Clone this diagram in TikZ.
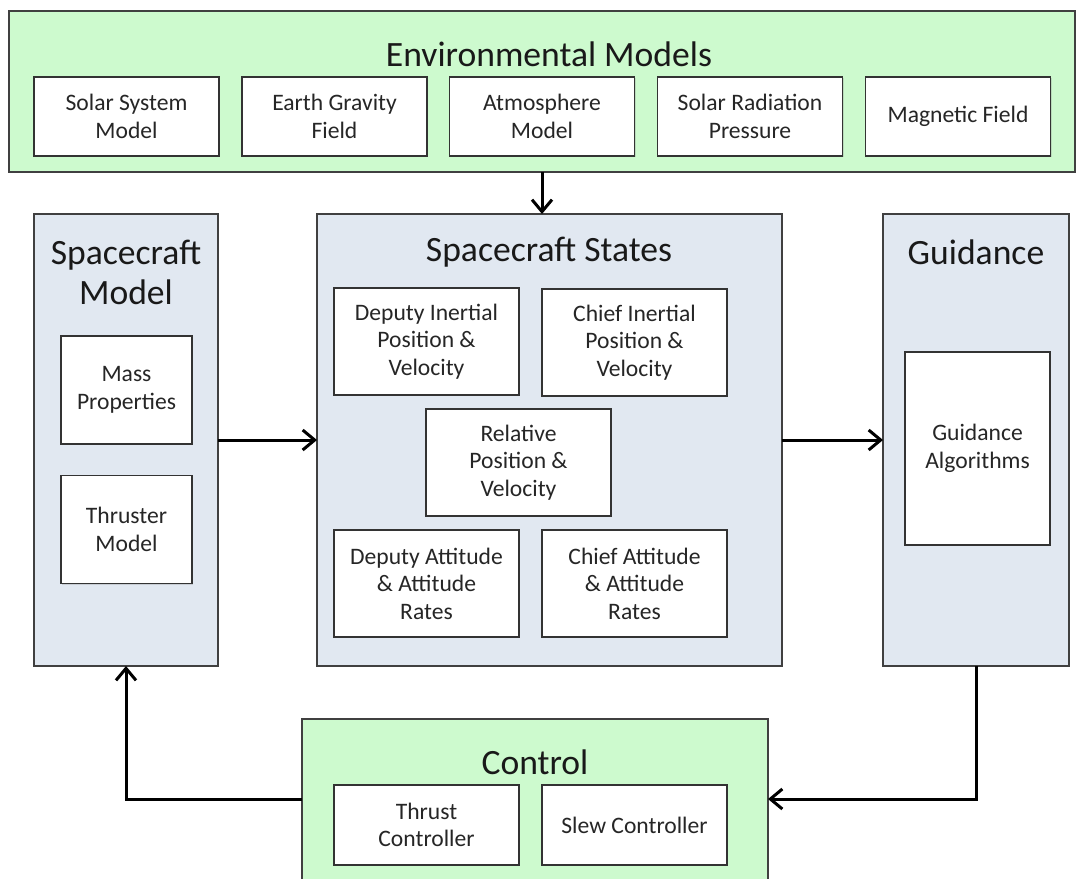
\documentclass[tikz,border=0pt]{standalone}
\usepackage{fontspec}
\setmainfont{Carlito}
\usetikzlibrary{arrows.meta,shadows}

\definecolor{envgreen}{RGB}{205,250,206}
\definecolor{sysblue}{RGB}{225,232,241}
\newcommand{\headfont}{\fontsize{17.8}{20}\selectfont}
\newcommand{\blockfont}{\fontsize{11.8}{13.8}\selectfont}

\tikzset{
  group/.style={draw=black!75, line width=0.75pt, inner sep=0pt, outer sep=0pt,
    drop shadow={shadow xshift=0.7pt, shadow yshift=-0.7pt, opacity=0.25}},
  envgroup/.style={group, fill=envgreen},
  sysgroup/.style={group, fill=sysblue},
  block/.style={draw=black!80, line width=0.75pt, fill=white, align=center,
    font=\blockfont, text=black!85, inner sep=0pt, outer sep=0pt,
    minimum width=92.5pt, minimum height=53.5pt,
    drop shadow={shadow xshift=0.7pt, shadow yshift=-0.7pt, opacity=0.25}},
  heading/.style={font=\headfont, text=black!90, align=center, inner sep=0pt},
  flow/.style={line width=1.5pt, -{Straight Barb[length=6pt,width=10pt]}}
}

\begin{document}
\begin{tikzpicture}[x=0.5pt,y=-0.5pt]
    \useasboundingbox (0,0) rectangle (1079,878);

    % environmental models (top band)
    \node[envgroup, minimum width=533pt, minimum height=80.5pt] (env) at (542,91.5) {};
    \node[heading] (envtitle) at (549,54) {Environmental Models};
    \node[block, minimum height=39.5pt] (solar) at (126.5,116.5) {Solar System\\Model};
    \node[block, minimum height=39.5pt] (gravity) at (334.5,116.5) {Earth Gravity\\Field};
    \node[block, minimum height=39.5pt] (atmo) at (542,116.5) {Atmosphere\\Model};
    \node[block, minimum height=39.5pt] (srp) at (750,116.5) {Solar Radiation\\Pressure};
    \node[block, minimum height=39.5pt] (magfield) at (958,116.5) {Magnetic Field};

    % spacecraft model
    \node[sysgroup, minimum width=92pt, minimum height=226pt] (scmodel) at (126,440) {};
    \node[heading] (scmodeltitle) at (126,272) {Spacecraft\\Model};
    \node[block, minimum width=65.5pt, minimum height=54pt] (mass) at (126.5,390) {Mass\\Properties};
    \node[block, minimum width=65.5pt, minimum height=54pt] (thruster) at (126.5,529.5) {Thruster\\Model};

    % spacecraft states
    \node[sysgroup, minimum width=232.5pt, minimum height=226pt] (states) at (549.5,440) {};
    \node[heading] (statestitle) at (549,252) {Spacecraft States};
    \node[block] (depinert) at (426.5,341.5) {Deputy Inertial\\Position \&\\Velocity};
    \node[block] (chinert) at (634.5,342.5) {Chief Inertial\\Position \&\\Velocity};
    \node[block] (relative) at (518.5,462.5) {Relative\\Position \&\\Velocity};
    \node[block] (depatt) at (426.5,583.5) {Deputy Attitude\\\& Attitude\\Rates};
    \node[block] (chatt) at (634.5,583.5) {Chief Attitude\\\& Attitude\\Rates};

    % guidance
    \node[sysgroup, minimum width=93pt, minimum height=226pt] (guid) at (976,440) {};
    \node[heading] (guidtitle) at (976,252) {Guidance};
    \node[block, minimum width=72.5pt, minimum height=96.5pt] (guidalg) at (977.5,448.5) {Guidance\\Algorithms};

    % control (runs off the bottom edge)
    \node[envgroup, minimum width=233pt, minimum height=90pt] (ctrl) at (535,809) {};
    \node[heading] (ctrltitle) at (535,762) {Control};
    \node[block, minimum height=40pt] (thrustctrl) at (426.5,825) {Thrust\\Controller};
    \node[block, minimum height=40pt] (slewctrl) at (634.5,825) {Slew Controller};

    % signal flow
    \draw[flow] (env.south) -- (env.south |- states.north);
    \draw[flow] (scmodel) -- (states);
    \draw[flow] (states) -- (guid);
    \draw[flow] (guid.south) |- ([yshift=5pt]ctrl.east);
    \draw[flow] ([yshift=5pt]ctrl.west) -| (scmodel.south);
\end{tikzpicture}
\end{document}
